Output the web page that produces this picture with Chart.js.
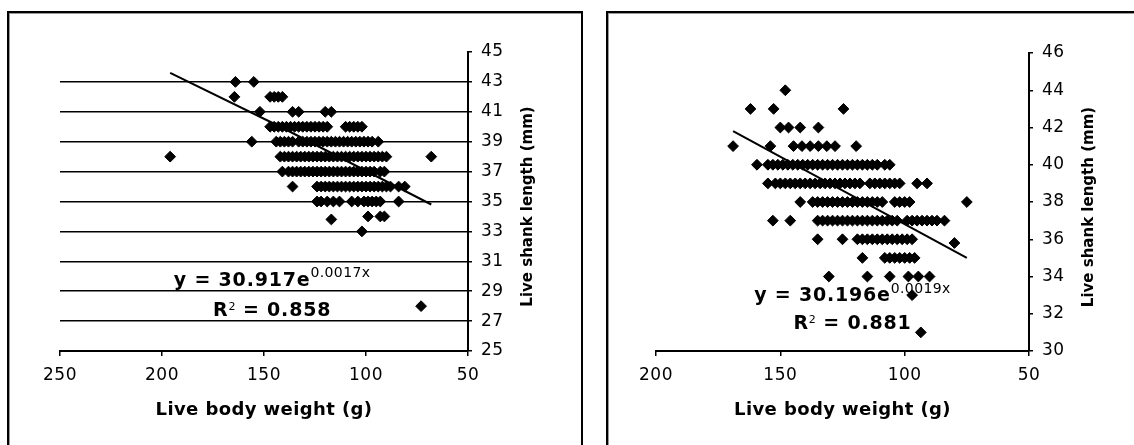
<!DOCTYPE html>
<html>
<head>
<meta charset="utf-8">
<script src="https://cdn.jsdelivr.net/npm/chart.js@4.4.1/dist/chart.umd.min.js"></script>
<style>
  html, body { margin: 0; padding: 0; background: #fff; width: 1134px; height: 445px; overflow: hidden; }
  .box { position: absolute; border: 2px solid #000; box-shadow: inset 1px 1px 0 #999; }
  #boxL { left: 7px; top: 11px; width: 572px; height: 600px; }
  #boxR { left: 606px; top: 11px; width: 600px; height: 600px; }
  canvas { position: absolute; top: 0; }
  #left { left: 0; }
  #right { left: 600px; }
</style>
</head>
<body>
<div class="box" id="boxL"></div>
<div class="box" id="boxR"></div>
<canvas id="left" width="600" height="445" style="width:600px;height:445px"></canvas>
<canvas id="right" width="534" height="445" style="width:534px;height:445px"></canvas>
<script>
// --- left panel: one shank value per row, weights read along that row ---
const leftShank = [43, 42, 41, 40, 39, 38, 37, 36, 35, 34, 33.8, 33, 28];
const leftWeight = [
    [164, 155],
    [164.5, 147, 145, 143, 141],
    [152, 136, 133, 120, 117],
    [147, 145, 143, 141, 139, 137, 135, 133, 131, 129, 127, 125, 123, 121, 119, 110, 108, 106, 104, 102],
    [156, 144, 142, 140, 138, 136, 133, 131, 129, 127, 125, 123, 121, 119, 117, 115, 113, 111, 109, 107, 105, 103, 101, 99, 97, 94],
    [196, 142, 140, 138, 136, 134, 132, 130, 128, 126, 124, 122, 120, 118, 116, 114, 112, 110, 108, 106, 104, 102, 100, 98, 96, 94, 92, 90, 68],
    [141, 138, 136, 134, 132, 130, 128, 126, 124, 122, 120, 118, 116, 114, 112, 110, 108, 106, 104, 102, 100, 98, 96, 93, 91],
    [136, 124, 122, 120, 118, 116, 114, 112, 110, 108, 106, 104, 102, 100, 98, 96, 94, 92, 90, 88, 84, 81],
    [124, 122, 119, 116, 113, 107, 104, 101, 99, 97, 95, 93, 84],
    [99, 93, 91],
    [117],
    [102],
    [73]
];
const leftTrendWeight = [196, 142, 68];
const leftTrendShank = [43.6, 40.0, 34.8];

// --- right panel ---
const rightShank = [44, 43, 42, 41, 40, 39, 38, 37, 36, 35.8, 35, 34, 33, 31];
const rightWeight = [
    [148],
    [162, 152.7, 124.6],
    [150, 146.7, 142, 134.7],
    [169, 154, 144.7, 141.3, 138, 134.7, 131.3, 128, 119.5],
    [159.4, 155, 153, 151, 149, 147, 145, 143, 141, 139, 137, 135, 133, 131, 129, 127, 125, 123, 121, 119, 117, 115, 113, 111, 108, 106],
    [155, 152, 150, 148, 146, 144, 142, 140, 138, 136, 134, 132, 130, 128, 126, 124, 122, 120, 118, 114, 112, 110, 108, 106, 104, 102, 95, 91],
    [142, 137, 135, 133, 131, 129, 127, 125, 123, 121, 119, 117, 115, 113, 111, 109, 104, 102, 100, 98, 75],
    [153, 146, 135, 133, 131, 129, 127, 125, 123, 121, 119, 117, 115, 113, 111, 109, 107, 105, 103, 99, 97, 95, 93, 91, 89, 87, 84],
    [135, 125, 119, 117, 115, 113, 111, 109, 107, 105, 103, 101, 99, 97],
    [80],
    [117, 108, 106, 104, 102, 100, 98, 96],
    [130.5, 115, 106, 98.5, 94.5, 90],
    [97],
    [93.5]
];
const rightTrendWeight = [169, 75];
const rightTrendShank = [41.8, 35.0];

const xTitle = 'Live body weight (g)';
const yTitle = 'Live shank length (mm)';

const FONT = 'DejaVu Sans';

// flatten the rows into {x, y} points
function toPoints(shanks, weights) {
    const pts = [];
    shanks.forEach((s, i) => weights[i].forEach(w => pts.push({ x: w, y: s })));
    return pts;
}

// trend label text and where it sits (in data units)
const leftEq = { coef: '30.917', exp: '0.0017x', r2: '0.858', at: [146, 29.35, 27.34] };
const rightEq = { coef: '30.196', exp: '0.0019x', r2: '0.881', at: [121, 32.67, 31.16] };

const textPlugin = {
    id: 'panelText',
    beforeLayout(chart) { chart.ctx.letterSpacing = '0.5px'; },
    beforeDraw(chart) { chart.ctx.letterSpacing = '0.5px'; },
    afterDraw(chart, args, opts) {
        const { ctx, chartArea: a, scales } = chart;
        ctx.save();
        ctx.fillStyle = '#000';

        // x title
        ctx.font = 'bold 18px ' + FONT;
        ctx.letterSpacing = '0.4px';
        ctx.textAlign = 'center';
        ctx.textBaseline = 'middle';
        ctx.fillText(xTitle, (a.left + a.right) / 2, a.bottom + 59);

        // y title, reads bottom to top
        ctx.save();
        ctx.translate(a.right + 60, (a.top + a.bottom) / 2 + 5);
        ctx.rotate(-Math.PI / 2);
        ctx.font = 'bold 15px ' + FONT;
        ctx.letterSpacing = '0px';
        ctx.fillText(yTitle, 0, 0);
        ctx.restore();

        // equation + R²
        const eq = opts.eq;
        const cx = scales.x.getPixelForValue(eq.at[0]);
        const b1 = scales.y.getPixelForValue(eq.at[1]);
        const b2 = scales.y.getPixelForValue(eq.at[2]);
        const big = 'bold 19px ' + FONT, small = '14px ' + FONT, tiny = '11px ' + FONT;
        const bigLs = '0.8px', smallLs = '0.4px';
        ctx.textAlign = 'left';
        ctx.textBaseline = 'alphabetic';

        const a1 = 'y = ' + eq.coef + 'e';
        ctx.font = big; ctx.letterSpacing = bigLs;
        const wa = ctx.measureText(a1).width;
        ctx.font = small; ctx.letterSpacing = smallLs;
        const wb = ctx.measureText(eq.exp).width;
        let sx = cx - (wa + wb) / 2;
        ctx.font = big; ctx.letterSpacing = bigLs;
        ctx.fillText(a1, sx, b1);
        ctx.font = small; ctx.letterSpacing = smallLs;
        ctx.fillText(eq.exp, sx + wa, b1 - 8.5);

        const r = 'R', rest = ' = ' + eq.r2;
        ctx.font = big; ctx.letterSpacing = bigLs;
        const wr = ctx.measureText(r).width, wrest = ctx.measureText(rest).width;
        ctx.font = tiny; ctx.letterSpacing = '0px';
        const w2 = ctx.measureText('2').width;
        sx = cx - (wr + w2 + wrest) / 2;
        ctx.font = big; ctx.letterSpacing = bigLs;
        ctx.fillText(r, sx, b2);
        ctx.font = tiny; ctx.letterSpacing = '0px';
        ctx.fillText('2', sx + wr, b2 - 6.5);
        ctx.font = big; ctx.letterSpacing = bigLs;
        ctx.fillText(rest, sx + wr + w2, b2);
        ctx.restore();
    }
};

function makePanel(id, cfg) {
    const ctx = document.getElementById(id);
    return new Chart(ctx, {
        type: 'scatter',
        data: {
            datasets: [{
                data: toPoints(cfg.shank, cfg.weight),
                pointStyle: 'rectRot',
                pointRadius: 5.4,
                borderWidth: 1,
                backgroundColor: '#000',
                borderColor: '#000'
            }, {
                data: cfg.trendX.map((w, i) => ({ x: w, y: cfg.trendY[i] })),
                showLine: true,
                pointRadius: 0,
                borderColor: '#000',
                borderWidth: 2
            }]
        },
        options: {
            responsive: false,
            animation: false,
            devicePixelRatio: 1,
            layout: { padding: { left: cfg.padLeft, top: cfg.padTop, right: cfg.padRight, bottom: 0 } },
            plugins: {
                legend: { display: false },
                tooltip: { enabled: false },
                panelText: { eq: cfg.eq }
            },
            scales: {
                x: {
                    type: 'linear',
                    reverse: true,
                    min: 50,
                    max: cfg.xMax,
                    ticks: { stepSize: 50, padding: 9, color: '#000', maxRotation: 0, font: { family: FONT, size: 17 } },
                    grid: { drawOnChartArea: false, tickLength: 5, color: '#000', lineWidth: 1.5 },
                    border: { color: '#000', width: 2 },
                    afterFit(scale) { scale.height = 94; }
                },
                y: {
                    type: 'linear',
                    position: 'right',
                    min: cfg.yMin,
                    max: cfg.yMax,
                    ticks: { stepSize: 2, padding: 9, color: '#000', font: { family: FONT, size: 17 } },
                    grid: {
                        drawOnChartArea: cfg.gridLines,
                        color: c => (c.tick && c.tick.value >= cfg.yMax) ? 'rgba(0,0,0,0)' : '#000',
                        tickColor: '#000',
                        tickLength: 4,
                        lineWidth: 1.5
                    },
                    border: { color: '#000', width: 2 },
                    afterFit(scale) { scale.width = cfg.yWidth; }
                }
            }
        },
        plugins: [textPlugin]
    });
}

makePanel('left', {
    shank: leftShank, weight: leftWeight,
    trendX: leftTrendWeight, trendY: leftTrendShank,
    xMax: 250, yMin: 25, yMax: 45, gridLines: true,
    padLeft: 60, padTop: 52, padRight: 32, yWidth: 100,
    eq: leftEq
});

makePanel('right', {
    shank: rightShank, weight: rightWeight,
    trendX: rightTrendWeight, trendY: rightTrendShank,
    xMax: 200, yMin: 30, yMax: 46, gridLines: false,
    padLeft: 56, padTop: 53, padRight: 25, yWidth: 80,
    eq: rightEq
});
</script>
</body>
</html>
